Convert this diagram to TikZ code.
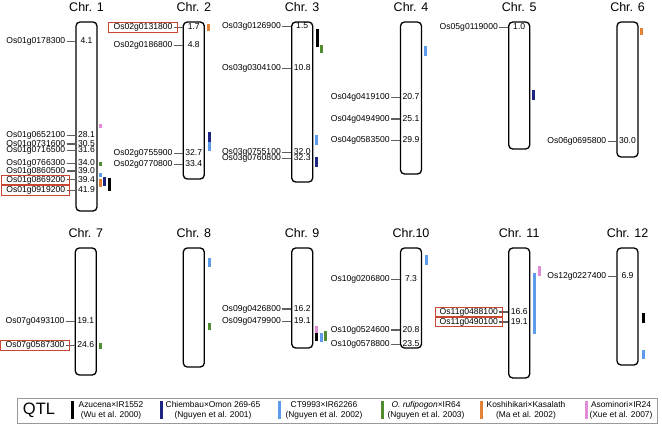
\documentclass[tikz,border=0pt]{standalone}
\usepackage{fontspec}
\setmainfont{Liberation Sans}
\usetikzlibrary{fit}
\definecolor{redc}{RGB}{200,70,50}
\definecolor{dblue}{RGB}{28,38,130}
\definecolor{lblue}{RGB}{95,155,235}
\definecolor{qgreen}{RGB}{80,140,50}
\definecolor{qorange}{RGB}{225,130,55}
\definecolor{qpink}{RGB}{225,140,215}
\definecolor{conng}{RGB}{95,95,95}
\tikzset{
  chrom/.style={draw=black, line width=1.3pt, rounded corners=4pt, minimum width=21pt, inner sep=0pt},
  ttl/.style={font=\fontsize{12.5}{14}\selectfont, inner sep=0pt},
  lbl/.style={font=\fontsize{8.6}{10}\selectfont, inner sep=0pt, text height=6.2pt, text depth=1.8pt, anchor=east},
  num/.style={font=\fontsize{8.6}{10}\selectfont, inner sep=0pt, text height=6.2pt, text depth=1.8pt},
  conn/.style={draw=conng, line width=1.3pt},
  redbox/.style={draw=redc, line width=0.9pt, inner xsep=4.5pt, inner ysep=0.6pt},
  legtxt/.style={font=\fontsize{8.4}{10.5}\selectfont, align=center, inner sep=0pt},
}
\newcommand{\genemark}[5]{%
  \coordinate (#1y) at (0,#3);
  \node[lbl, xshift=-10pt] (#1) at (#2.west |- #1y) {#4};
  \node[num] (#1n) at (#2.center |- #1y) {#5};
  \draw[conn] ([xshift=1.2pt]#1.east) -- (#2.west |- #1y);
}
\begin{document}
\begin{tikzpicture}[x=1pt, y=-1pt]
\useasboundingbox (0,0) rectangle (662,424);
% chromosomes row 1
\node[chrom, minimum height=189pt] (c1) at (86.5,116.5) {};
\node[chrom, minimum height=157pt] (c2) at (193.8,100.5) {};
\node[chrom, minimum height=160pt] (c3) at (302.2,102) {};
\node[chrom, minimum height=152pt] (c4) at (411,98) {};
\node[chrom, minimum height=127pt] (c5) at (519.2,85.5) {};
\node[chrom, minimum height=135pt] (c6) at (627.5,89.5) {};
% chromosomes row 2
\node[chrom, minimum height=127pt] (c7) at (85.8,311.5) {};
\node[chrom, minimum height=119pt] (c8) at (193.8,307.5) {};
\node[chrom, minimum height=100pt] (c9) at (302.2,298) {};
\node[chrom, minimum height=100pt] (c10) at (411,298) {};
\node[chrom, minimum height=130pt] (c11) at (519.2,313) {};
\node[chrom, minimum height=117pt] (c12) at (627.5,306.5) {};
% titles
\node[ttl] (t1) at (86.5,7) {Chr. 1};
\node[ttl] (t2) at (193.8,7) {Chr. 2};
\node[ttl] (t3) at (302.2,7) {Chr. 3};
\node[ttl] (t4) at (411,7) {Chr. 4};
\node[ttl] (t5) at (519.2,7) {Chr. 5};
\node[ttl] (t6) at (627.5,7) {Chr. 6};
\node[ttl] (t7) at (85.8,233) {Chr. 7};
\node[ttl] (t8) at (193.8,233) {Chr. 8};
\node[ttl] (t9) at (302.2,233) {Chr. 9};
\node[ttl] (t10) at (411,233) {Chr.10};
\node[ttl] (t11) at (519.2,233) {Chr. 11};
\node[ttl] (t12) at (627.5,233) {Chr. 12};
% genes
\genemark{g1a}{c1}{41.7}{Os01g0178300}{4.1}
\genemark{g1b}{c1}{135.3}{Os01g0652100}{28.1}
\genemark{g1c}{c1}{144}{Os01g0731600}{30.5}
\genemark{g1d}{c1}{150.3}{Os01g0716500}{31.6}
\genemark{g1e}{c1}{163.3}{Os01g0766300}{34.0}
\genemark{g1f}{c1}{171}{Os01g0860500}{39.0}
\genemark{g1g}{c1}{179.8}{Os01g0869200}{39.4}
\genemark{g1h}{c1}{190.2}{Os01g0919200}{41.9}
\genemark{g2a}{c2}{27.3}{Os02g0131800}{1.7}
\genemark{g2b}{c2}{45.7}{Os02g0186800}{4.8}
\genemark{g2c}{c2}{153.3}{Os02g0755900}{32.7}
\genemark{g2d}{c2}{164.3}{Os02g0770800}{33.4}
\genemark{g3a}{c3}{26.7}{Os03g0126900}{1.5}
\genemark{g3b}{c3}{68.7}{Os03g0304100}{10.8}
\genemark{g3c}{c3}{152.3}{Os03g0755100}{32.0}
\genemark{g3d}{c3}{158.7}{Os03g0760800}{32.3}
\genemark{g4a}{c4}{97.3}{Os04g0419100}{20.7}
\genemark{g4b}{c4}{119}{Os04g0494900}{25.1}
\genemark{g4c}{c4}{140.7}{Os04g0583500}{29.9}
\genemark{g5a}{c5}{27.3}{Os05g0119000}{1.0}
\genemark{g6a}{c6}{141.7}{Os06g0695800}{30.0}
\genemark{g7a}{c7}{321.7}{Os07g0493100}{19.1}
\genemark{g7b}{c7}{345.3}{Os07g0587300}{24.6}
\genemark{g9a}{c9}{309}{Os09g0426800}{16.2}
\genemark{g9b}{c9}{321.7}{Os09g0479900}{19.1}
\genemark{g10a}{c10}{279.3}{Os10g0206800}{7.3}
\genemark{g10b}{c10}{330}{Os10g0524600}{20.8}
\genemark{g10c}{c10}{344.3}{Os10g0578800}{23.5}
\genemark{g11a}{c11}{312}{Os11g0488100}{16.6}
\genemark{g11b}{c11}{321.9}{Os11g0490100}{19.1}
\genemark{g12a}{c12}{276.7}{Os12g0227400}{6.9}
% red boxes
\node[redbox, fit=(g1g)] (r1g) {};
\node[redbox, fit=(g1h)] (r1h) {};
\node[redbox, fit=(g2a)] (r2a) {};
\node[redbox, fit=(g7b)] (r7b) {};
\node[redbox, fit=(g11a)] (r11a) {};
\node[redbox, fit=(g11b)] (r11b) {};
% QTL bars
\fill[qpink] (98.5,124) rectangle (101.5,128);
\fill[qgreen] (98.5,162) rectangle (101.5,165.5);
\fill[lblue] (98.5,173) rectangle (101.5,177);
\fill[qorange] (98.5,179) rectangle (101.5,187);
\fill[dblue] (103,177) rectangle (106,186);
\fill[black] (107.5,178) rectangle (110.5,191);
\fill[qorange] (207,24) rectangle (210,31);
\fill[dblue] (207.5,132) rectangle (210.5,142);
\fill[lblue] (207.5,142) rectangle (210.5,151);
\fill[black] (316,29) rectangle (319,47);
\fill[qgreen] (320,45) rectangle (323,53);
\fill[lblue] (315,135) rectangle (318,145);
\fill[dblue] (315,157) rectangle (318,167);
\fill[lblue] (424,46) rectangle (427,56);
\fill[dblue] (531.5,90) rectangle (534.5,100);
\fill[qorange] (640,28) rectangle (643,35);
\fill[qgreen] (98.5,343) rectangle (101.5,349);
\fill[lblue] (207.5,258) rectangle (210.5,267);
\fill[qgreen] (207.5,323) rectangle (210.5,330);
\fill[qpink] (315,326) rectangle (318,333);
\fill[black] (315,333) rectangle (318,341);
\fill[lblue] (319.5,333) rectangle (322.5,342);
\fill[qgreen] (323.5,331) rectangle (326.5,341);
\fill[lblue] (424.5,255) rectangle (427.5,265);
\fill[qpink] (538,266) rectangle (541,276);
\fill[lblue] (533,273) rectangle (536,334);
\fill[black] (641.5,313) rectangle (644.5,323);
\fill[lblue] (641.5,350) rectangle (644.5,359);
% legend
\node[draw=black!40, line width=0.8pt, minimum width=640pt, minimum height=25pt, inner sep=0pt] (leg) at (337,410.5) {};
\node[font=\fontsize{16.5}{18}\selectfont, inner sep=0pt] (qtl) at (39,410.5) {QTL};
\fill[black] (71,401) rectangle (73.5,418.5);
\node[legtxt] (l1) at (111,410.5) {Azucena×IR1552\\(Wu et al. 2000)};
\fill[dblue] (160,401) rectangle (162.5,418.5);
\node[legtxt] (l2) at (213,410.5) {Chiembau×Omon 269-65\\(Nguyen et al. 2001)};
\fill[lblue] (278,401) rectangle (280.5,418.5);
\node[legtxt] (l3) at (324,410.5) {CT9993×IR62266\\(Nguyen et al. 2002)};
\fill[qgreen] (381,401) rectangle (383.5,418.5);
\node[legtxt] (l4) at (426,410.5) {\textit{O. rufipogon}×IR64\\(Nguyen et al. 2003)};
\fill[qorange] (480,401) rectangle (482.5,418.5);
\node[legtxt] (l5) at (526,410.5) {Koshihikari×Kasalath\\(Ma et al. 2002)};
\fill[qpink] (585,401) rectangle (587.5,418.5);
\node[legtxt] (l6) at (621,410.5) {Asominori×IR24\\(Xue et al. 2007)};
\end{tikzpicture}
\end{document}
